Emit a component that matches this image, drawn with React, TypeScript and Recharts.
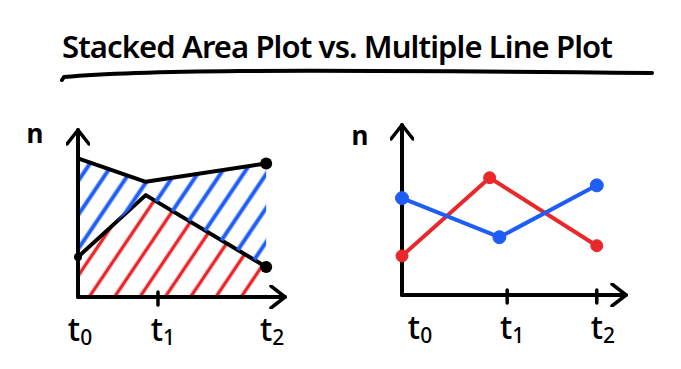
import React from 'react';
import { AreaChart, Area, LineChart, Line, XAxis, YAxis } from 'recharts';

const TITLE = 'Stacked Area Plot vs. Multiple Line Plot';
const Y_LABEL = 'n';
const TICK_SUBS = ['0', '1', '2'];

// left: stacked area, red layer at the bottom, blue layer stacked on it
const AREA_T = [0, 0.72, 2];
const AREA_RED = [2.4, 6.1, 1.8];
const AREA_BLUE = [5.9, 0.8, 6.2];
const AREA_TICKS = [0, 0.85, 2];

// right: two separate lines
const RED_T = [0, 0.9, 2];
const RED_N = [2.3, 6.9, 2.9];
const BLUE_T = [0, 1.0, 2];
const BLUE_N = [5.7, 3.4, 6.45];
const LINE_TICKS = [0, 1.08, 2];

const RED = '#e8282b';
const BLUE = '#1f5ef6';
const FONT = '"Noto Sans", sans-serif';

const areaData = AREA_T.map((x, i) => ({ x, red: AREA_RED[i], blue: AREA_BLUE[i] }));
const redData = RED_T.map((x, i) => ({ x, n: RED_N[i] }));
const blueData = BLUE_T.map((x, i) => ({ x, n: BLUE_N[i] }));

const makeTick = (marks: boolean[], dx: number[]) => (props: any) => {
  const { x, y, index } = props;
  return (
    <g>
      {marks[index] && (
        <line x1={x} x2={x} y1={y - 5} y2={y + 8} stroke="#000" strokeWidth={3.5} strokeLinecap="round" />
      )}
      <text x={x + dx[index]} y={y + 44} textAnchor="middle" fontSize={32} fontFamily={FONT} fontWeight={500} fill="#000">
        t<tspan fontSize={21} dy={4}>{TICK_SUBS[index]}</tspan>
      </text>
    </g>
  );
};

const nLabel = (dx: number, dy: number) => (props: any) => {
  const vb = props.viewBox || { x: 0, y: 0 };
  return (
    <text x={vb.x + dx} y={vb.y + dy} textAnchor="middle" fontSize={26} fontWeight={700} fontFamily={FONT} fill="#000">
      {Y_LABEL}
    </text>
  );
};

const areaDot = (layer: 'red' | 'blue') => (props: any) => {
  const { cx, cy, index } = props;
  if (index === 2) return <circle key={`${layer}-${index}`} cx={cx} cy={cy} r={6} fill="#000" />;
  if (index === 0 && layer === 'red') return <circle key={`${layer}-${index}`} cx={cx} cy={cy} r={4} fill="#000" />;
  return <g key={`${layer}-${index}`} />;
};

const axisX = { stroke: '#000', strokeWidth: 4, strokeLinecap: 'round', markerEnd: 'url(#arrowHead)' } as any;
const axisY = { stroke: '#000', strokeWidth: 4, strokeLinecap: 'round', markerStart: 'url(#arrowHead)' } as any;

export default function App() {
  return (
    <div style={{ position: 'absolute', left: 0, top: 0, width: 681, height: 369, background: '#fff', overflow: 'hidden' }}>
      <svg width={681} height={369} style={{ position: 'absolute', left: 0, top: 0 }}>
        <defs>
          <marker id="arrowHead" viewBox="0 0 24 24" refX={21} refY={12} markerWidth={24} markerHeight={24}
            markerUnits="userSpaceOnUse" orient="auto-start-reverse">
            <path d="M7,1 L21,12 L7,23" fill="none" stroke="#000" strokeWidth={3.5} strokeLinecap="round" strokeLinejoin="round" />
          </marker>
          <pattern id="hatchRed" patternUnits="userSpaceOnUse" width={21} height={21} patternTransform="rotate(34)">
            <line x1={10.5} y1={0} x2={10.5} y2={21} stroke={RED} strokeWidth={3.5} />
          </pattern>
          <pattern id="hatchBlue" patternUnits="userSpaceOnUse" width={19} height={19} patternTransform="rotate(34)">
            <line x1={9.5} y1={0} x2={9.5} y2={19} stroke={BLUE} strokeWidth={4} />
          </pattern>
        </defs>
        <text x={62} y={58} fontSize={31} fontWeight={600} letterSpacing={-0.9} fontFamily={FONT} fill="#000">
          {TITLE}
        </text>
        <path d="M62,80 L64,77 Q120,72 240,71 T652,73" fill="none" stroke="#000" strokeWidth={4} strokeLinecap="round" strokeLinejoin="round" />
      </svg>

      <div style={{ position: 'absolute', left: 0, top: 110 }}>
        <AreaChart width={340} height={259} data={areaData} margin={{ top: 20, right: 55, bottom: 12, left: 18 }}>
          <XAxis dataKey="x" type="number" domain={[0, 2.2]} ticks={AREA_TICKS} height={60}
            axisLine={axisX} tickLine={false} tickSize={0} tickMargin={0}
            tick={makeTick([false, true, false], [2, 5, 6])} interval={0} />
          <YAxis type="number" domain={[0, 10]} width={60} tick={false} tickLine={false}
            axisLine={axisY} label={{ content: nLabel(17, 13) } as any} />
          <Area type="linear" dataKey="red" stackId="s" stroke="#000" strokeWidth={4} strokeLinejoin="round"
            fill="url(#hatchRed)" fillOpacity={1} dot={areaDot('red')} activeDot={false} isAnimationActive={false} />
          <Area type="linear" dataKey="blue" stackId="s" stroke="#000" strokeWidth={4} strokeLinejoin="round"
            fill="url(#hatchBlue)" fillOpacity={1} dot={areaDot('blue')} activeDot={false} isAnimationActive={false} />
        </AreaChart>
      </div>

      <div style={{ position: 'absolute', left: 340, top: 110 }}>
        <LineChart width={341} height={259} margin={{ top: 15, right: 55, bottom: 14, left: 2 }}>
          <XAxis dataKey="x" type="number" domain={[0, 2.3]} ticks={LINE_TICKS} height={60}
            axisLine={axisX} tickLine={false} tickSize={0} tickMargin={0}
            tick={makeTick([false, true, true], [18, 5, 6])} interval={0} allowDuplicatedCategory={false} />
          <YAxis type="number" domain={[0, 10]} width={60} tick={false} tickLine={false}
            axisLine={axisY} label={{ content: nLabel(18, 20) } as any} />
          <Line data={redData} dataKey="n" type="linear" stroke={RED} strokeWidth={4} strokeLinejoin="round"
            dot={{ r: 6, fill: RED, stroke: RED, strokeWidth: 1 }} activeDot={false} isAnimationActive={false} />
          <Line data={blueData} dataKey="n" type="linear" stroke={BLUE} strokeWidth={4} strokeLinejoin="round"
            dot={{ r: 6.5, fill: BLUE, stroke: BLUE, strokeWidth: 1 }} activeDot={false} isAnimationActive={false} />
        </LineChart>
      </div>
    </div>
  );
}
